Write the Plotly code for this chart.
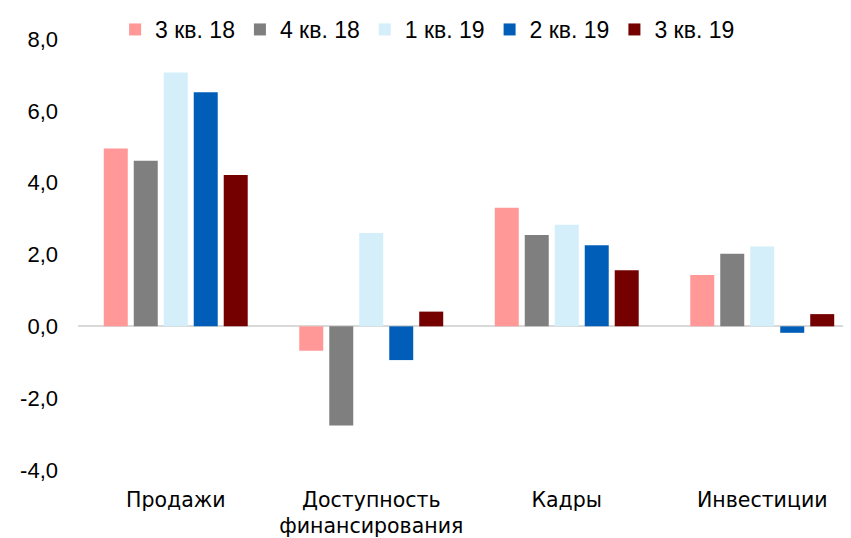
import plotly.graph_objects as go

categories = ["Продажи", "Доступность<br>финансирования", "Кадры", "Инвестиции"]
series_names = ["3 кв. 18", "4 кв. 18", "1 кв. 19", "2 кв. 19", "3 кв. 19"]
q3_18 = [4.95, -0.68, 3.30, 1.43]
q4_18 = [4.61, -2.76, 2.54, 2.02]
q1_19 = [7.07, 2.60, 2.83, 2.22]
q2_19 = [6.52, -0.94, 2.26, -0.18]
q3_19 = [4.21, 0.41, 1.56, 0.34]
colors = ["#FF9896", "#7F7F7F", "#D4EEFA", "#005EB8", "#750000"]
tick_vals = [-4, -2, 0, 2, 4, 6, 8]
tick_text = ["-4,0", "-2,0", "0,0", "2,0", "4,0", "6,0", "8,0"]

fig = go.Figure()
for name, vals, c in zip(series_names, [q3_18, q4_18, q1_19, q2_19, q3_19], colors):
    fig.add_trace(go.Bar(x=list(range(len(categories))), y=vals, name=name,
                         marker=dict(color=c, line=dict(width=0))))

fig.update_layout(
    width=843, height=530,
    margin=dict(l=70, r=0, t=24, b=68),
    paper_bgcolor="white", plot_bgcolor="white",
    barmode="group", bargap=0.233, bargroupgap=0.2,
    font=dict(family="Liberation Sans, Arial, sans-serif", size=18, color="#000000"),
    legend=dict(orientation="h", x=0.048, y=1.0228, xanchor="left", yanchor="middle",
                font=dict(family="Liberation Sans, sans-serif", size=23),
                itemwidth=30, bgcolor="rgba(0,0,0,0)", traceorder="normal"),
    xaxis=dict(tickmode="array", tickvals=list(range(len(categories))), ticktext=categories,
               range=[-0.5, 3.454], showgrid=False, showline=False, ticks="", automargin=False,
               ticklabelstandoff=15,
               tickfont=dict(family="DejaVu Sans, sans-serif", size=20.5, color="#000000")),
    yaxis=dict(range=[-4, 8], tickvals=tick_vals, ticktext=tick_text, showgrid=False,
               zeroline=True, zerolinecolor="#D9D9D9", zerolinewidth=2, automargin=False,
               showline=False, ticks="", ticklabelstandoff=19,
               tickfont=dict(family="Liberation Sans, Arial, sans-serif", size=22, color="#000000")),
)

fig.write_html("out.html")
